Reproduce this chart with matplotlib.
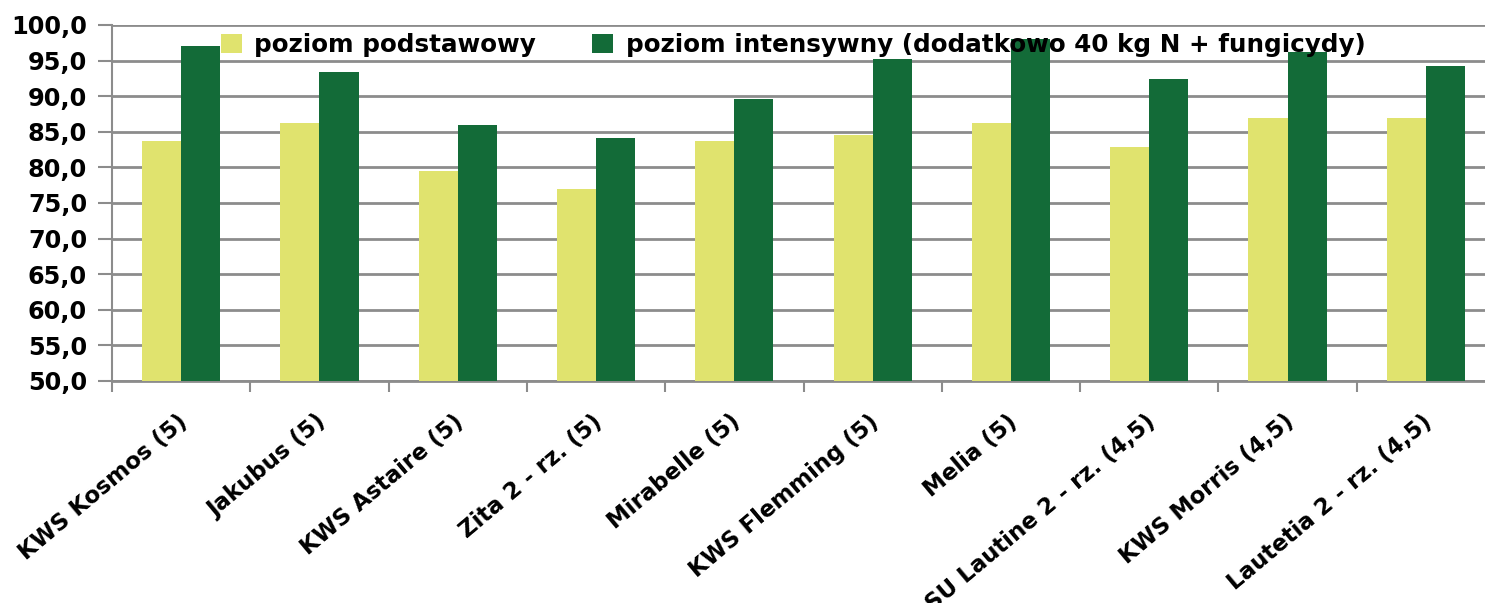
import matplotlib
matplotlib.use("Agg")
import matplotlib.pyplot as plt
import numpy as np

categories = ["KWS Kosmos (5)", "Jakubus (5)", "KWS Astaire (5)", "Zita 2 - rz. (5)",
              "Mirabelle (5)", "KWS Flemming (5)", "Melia (5)", "SU Lautine 2 - rz. (4,5)",
              "KWS Morris (4,5)", "Lautetia 2 - rz. (4,5)"]
podstawowy = [83.7, 86.2, 79.5, 76.9, 83.7, 84.5, 86.2, 82.8, 87.0, 87.0]
intensywny = [97.0, 93.4, 86.0, 84.1, 89.6, 95.2, 98.0, 92.4, 96.2, 94.3]
series_names = ["poziom podstawowy", "poziom intensywny (dodatkowo 40 kg N + fungicydy)"]
yticks = [50, 55, 60, 65, 70, 75, 80, 85, 90, 95, 100]

plt.rcParams['font.family'] = ['DejaVu Sans']
plt.rcParams['font.weight'] = 'bold'

W, H = 1485, 603
fig = plt.figure(figsize=(W / 100, H / 100), dpi=100)
left, right, top, bottom = 112, 1495, 25, 381
ax = fig.add_axes([left / W, 1 - bottom / H, (right - left) / W, (bottom - top) / H])

x = np.arange(len(categories))
bw = 0.283
yellow = "#E0E36E"
green = "#136B38"
ax.bar(x - bw / 2, np.array(podstawowy) - 50, bw, bottom=50, color=yellow, label=series_names[0], zorder=3)
ax.bar(x + bw / 2, np.array(intensywny) - 50, bw, bottom=50, color=green, label=series_names[1], zorder=3)

ax.set_xlim(-0.5, len(categories) - 0.5)
ax.set_ylim(50, 100)
ax.set_yticks(yticks)
ax.set_yticklabels([f"{v:.1f}".replace(".", ",") for v in yticks], fontsize=17.3, fontweight='bold')
ax.yaxis.grid(True, color="#8c8c8c", linewidth=2, zorder=0)
ax.tick_params(axis='y', length=10, width=1.5, color="#8c8c8c", pad=8)

ax.set_xticks(np.arange(len(categories) + 1) - 0.5, minor=False)
ax.set_xticklabels([])
ax.tick_params(axis='x', length=8, width=1.5, color="#8c8c8c")
for xi, lab in zip(x, categories):
    ax.text(xi - 0.03, 45.9, lab, rotation=40, rotation_mode='anchor', ha='right', va='top',
            fontsize=16.5, fontweight='bold', transform=ax.transData, clip_on=False)

for s in ['top', 'right']:
    ax.spines[s].set_visible(False)
ax.spines['left'].set_color("#8c8c8c")
ax.spines['left'].set_linewidth(1.5)
ax.spines['bottom'].set_color("#8c8c8c")
ax.spines['bottom'].set_linewidth(2)

leg = ax.legend(loc='upper left', bbox_to_anchor=((211 - left) / (right - left), 1.005), ncol=2,
                frameon=False, prop={'weight': 'bold', 'size': 17.7},
                handlelength=0.85, handleheight=0.8, handletextpad=0.5, columnspacing=2.3,
                borderaxespad=0)

fig.savefig("out.png", dpi=100)
